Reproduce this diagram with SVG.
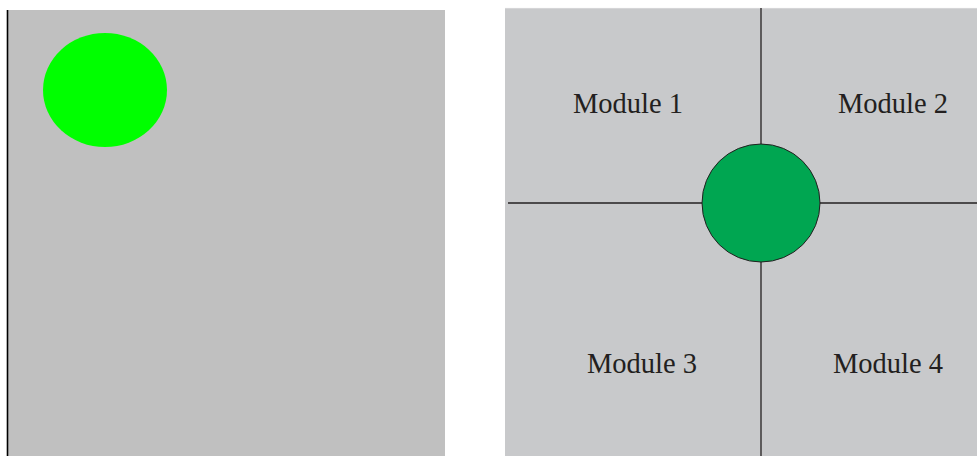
<svg xmlns="http://www.w3.org/2000/svg" width="977" height="456" viewBox="0 0 977 456">
<style>
.lbl{font-family:"Liberation Serif","Times New Roman",serif;font-size:28.5px;fill:#231f20}
.ln{stroke:#231f20;stroke-width:1.3;fill:none}
</style>
<rect x="0" y="0" width="977" height="456" fill="#ffffff"/>
<g id="left-panel">
<rect x="8" y="10" width="437" height="446" fill="#c0c0c0"/>
<line x1="7.5" y1="10" x2="7.5" y2="456" stroke="#000000" stroke-width="1.6"/>
<ellipse cx="105" cy="90" rx="62" ry="57" fill="#00ff00"/>
</g>
<g id="right-panel">
<rect x="505" y="8" width="472" height="448" fill="#c8c9cb"/>
<line x1="505" y1="8.3" x2="977" y2="8.3" stroke="#e2e3e4" stroke-width="0.6"/>
</g>
<g id="connectors">
<line class="ln" x1="761" y1="8" x2="761" y2="144"/>
<line class="ln" x1="761" y1="262" x2="761" y2="456"/>
<line class="ln" x1="508" y1="203" x2="702" y2="203"/>
<line class="ln" x1="820" y1="203" x2="977" y2="203"/>
</g>
<g id="hub">
<circle cx="761" cy="203" r="59" fill="#00a651" stroke="#231f20" stroke-width="1"/>
</g>
<g id="module1"><text class="lbl" x="573" y="113">Module 1</text></g>
<g id="module2"><text class="lbl" x="838" y="113">Module 2</text></g>
<g id="module3"><text class="lbl" x="587" y="373">Module 3</text></g>
<g id="module4"><text class="lbl" x="833" y="373">Module 4</text></g>
</svg>
